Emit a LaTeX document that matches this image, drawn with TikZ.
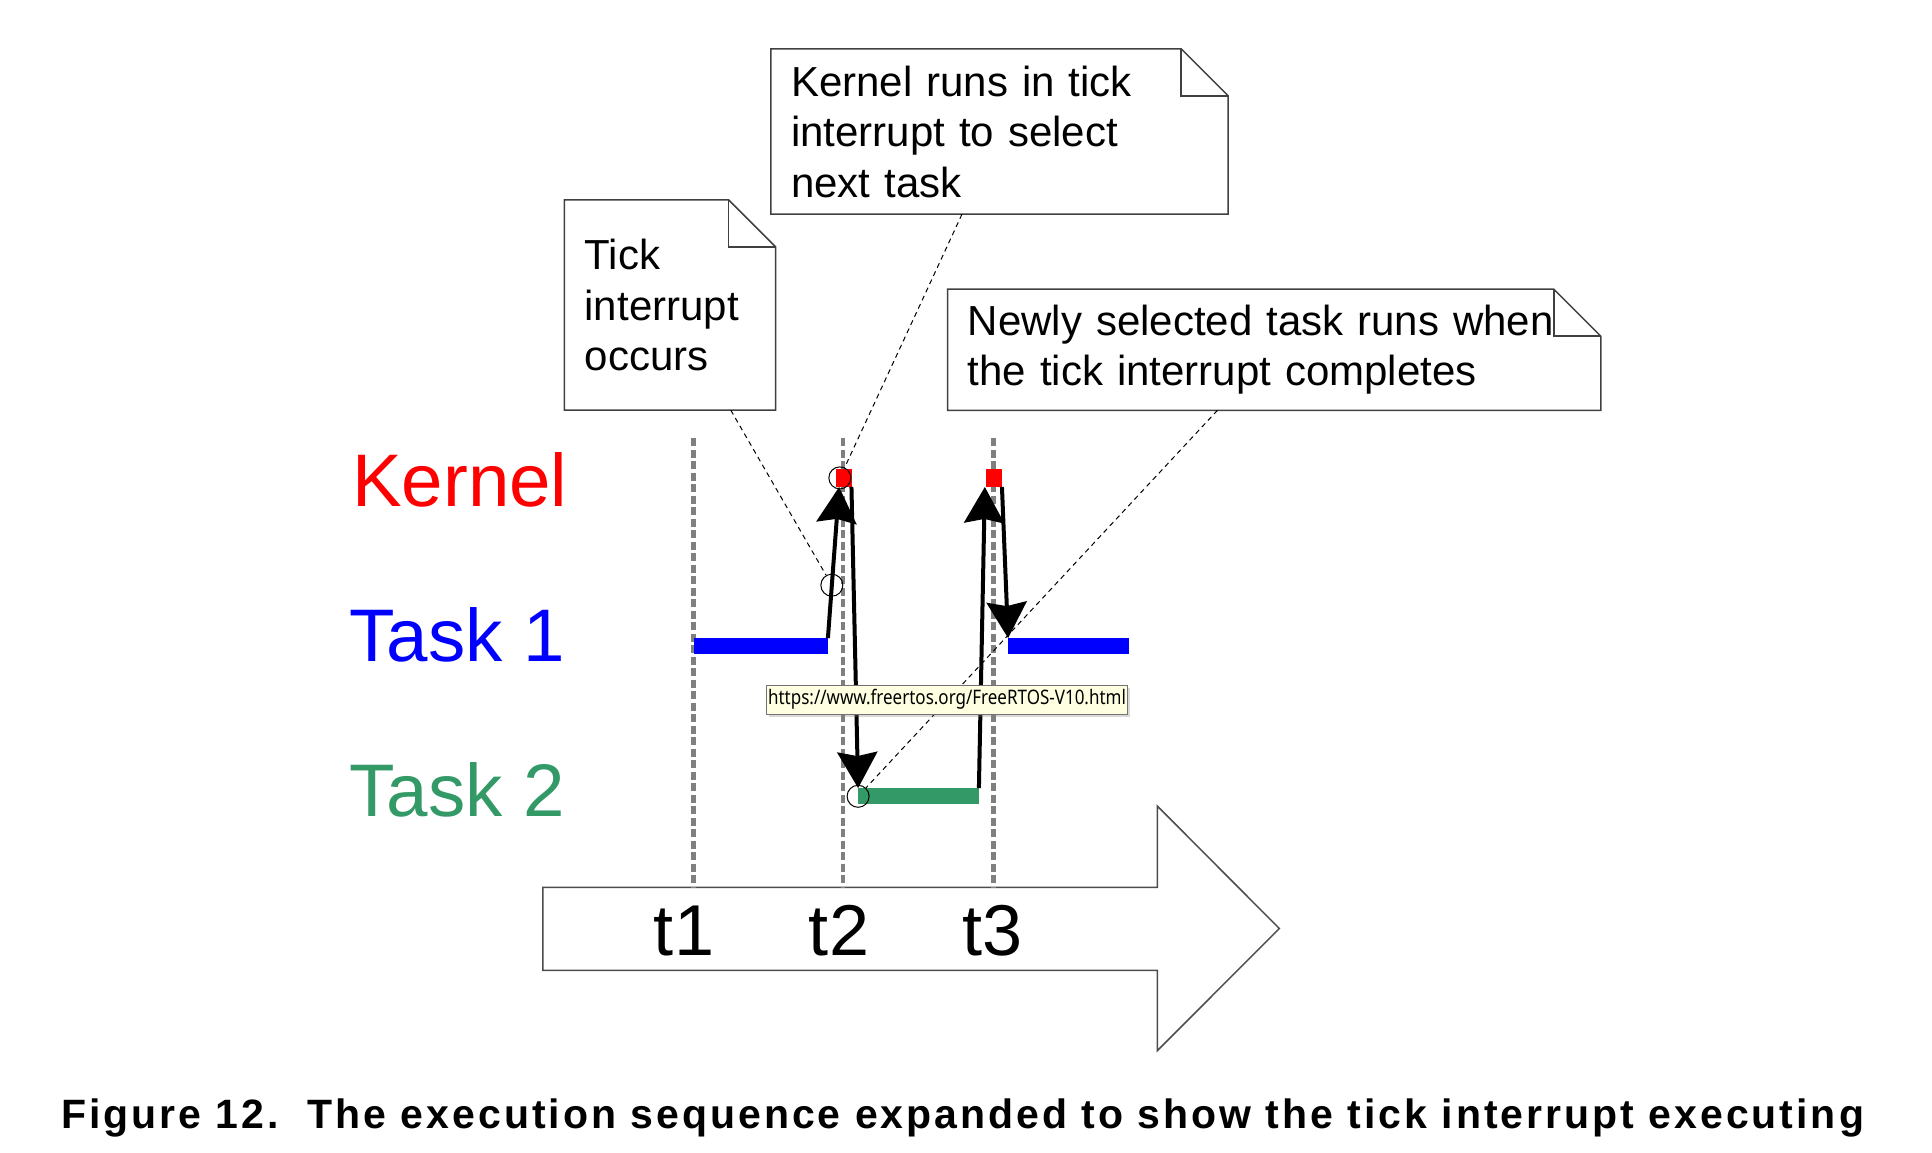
\documentclass[tikz,border=0pt]{standalone}
\usepackage{fontspec}
\setmainfont{Liberation Sans}
\newfontfamily\tipfont{Noto Sans}
\newfontfamily\capfont{Liberation Sans}[LetterSpace=7.3]
\usetikzlibrary{arrows.meta,shadows}

\definecolor{kernred}{RGB}{255,0,0}
\definecolor{taskblue}{RGB}{0,0,255}
\definecolor{taskgreen}{RGB}{51,153,102}
\definecolor{guidegrey}{RGB}{128,128,128}
\definecolor{tipyellow}{RGB}{255,255,225}

\begin{document}
\begin{tikzpicture}[x=1pt,y=1pt,yscale=-1,xscale=1,
  rowlabel/.style={anchor=base west,inner sep=0pt,font=\fontsize{74.5}{80}\selectfont},
  runbar/.style={inner sep=0pt,minimum height=16pt},
  kernblock/.style={fill=kernred,inner sep=0pt,minimum width=15.7pt,minimum height=17.7pt},
  switch/.style={line width=4pt,-{Stealth[length=36pt,width=40pt,inset=4pt]}},
  pin/.style={circle,draw,line width=1pt,minimum size=22pt,inner sep=0pt},
  callout/.style={line width=1pt,dash pattern=on 5pt off 4pt},
  notebox/.style={inner xsep=20pt,inner ysep=0pt,align=left,font=\fontsize{42}{50.5}\selectfont},
  noteline/.style={draw=black!75,line width=1.5pt},
  guide/.style={guidegrey,line width=4.5pt,dash pattern=on 8pt off 3.5pt},
  ticklabel/.style={anchor=base,inner sep=0pt,font=\fontsize{72}{80}\selectfont},
  tipbox/.style={draw=black!55,fill=tipyellow,line width=1pt,inner sep=0pt,
    minimum width=360.6pt,minimum height=29.3pt,font=\tipfont\fontsize{20}{22}\selectfont,
    drop shadow={shadow xshift=2.5pt,shadow yshift=-2.5pt,opacity=0.3}}]
\useasboundingbox (0,0) rectangle (1932,1153);

% Time line arrow
\draw [draw=black!70,line width=1.5pt,fill=white] (542.8,887.3) -- (1157.3,887.3) -- (1157.3,806) -- (1279.3,928.5) -- (1157.3,1050.7) -- (1157.3,970.3) -- (542.8,970.3) -- cycle ;

% Tick instants
\foreach \gx [count=\i] in {693.5,843,993.3}
  \draw [guide] (\gx,438) coordinate (guide\i) -- (\gx,887) ;
\node [ticklabel] (t1) at (684,955) {t1};
\node [ticklabel] (t2) at (839,955) {t2};
\node [ticklabel] (t3) at (992.5,955) {t3};

% Row labels
\node [rowlabel,text=kernred] (kernlbl) at (352,506) {Kernel};
\node [rowlabel,text=taskblue] (task1lbl) at (349.3,661) {Task 1};
\node [rowlabel,text=taskgreen] (task2lbl) at (349.3,816.7) {Task 2};

% Run bars
\node [runbar,fill=taskblue,minimum width=134pt] (task1a) at (760.7,646.3) {};
\node [runbar,fill=taskblue,minimum width=120.7pt] (task1b) at (1068.65,646.3) {};
\node [runbar,fill=taskgreen,minimum width=120.4pt] (task2run) at (918.5,796.3) {};
\node [kernblock] (kern1) at (843.9,477.9) {};
\node [kernblock] (kern2) at (993.9,477.9) {};

% Context switches
\draw [switch] (task1a.north east) -- ([xshift=3.3pt]kern1.south west) node [pin,pos=0.35] (circ2) {};
\draw [switch] ([xshift=-0.5pt]kern1.south east) -- (task2run.north west);
\draw [switch] (task2run.north east) -- ([xshift=-1pt]kern2.south west);
\draw [switch] (kern2.south east) -- (task1b.north west);
\node [pin] (circ1) at ([xshift=4pt]kern1.west) {};
\node [pin] (circ3) at (task2run.west) {};

% Notes
\node [notebox,text width=170.7pt,minimum width=210.7pt,minimum height=210pt] (tickbox) at (670,305) {Tick\\interrupt\\occurs};
\node [notebox,text width=417pt,minimum width=457pt,minimum height=165pt] (kernbox) at (999.5,131.5) {Kernel runs in tick\\interrupt to select\\next task};
\node [notebox,text width=612.7pt,minimum width=652.7pt,minimum height=120.7pt] (newbox) at (1274.2,349.7) {Newly selected task runs when\\the tick interrupt completes};
\foreach \n in {tickbox,kernbox,newbox}{
  \draw [noteline] (\n.north west) -- ([xshift=-47pt]\n.north east) -- ([yshift=47pt]\n.north east) -- (\n.south east) -- (\n.south west) -- cycle ;
  \draw [noteline] ([xshift=-47pt]\n.north east) |- ([yshift=47pt]\n.north east) ;
}

% Callout lines
\draw [callout] ([xshift=60.8pt]tickbox.south) -- (circ2) ;
\draw [callout] ([xshift=-37.5pt]kernbox.south) -- (circ1) ;
\draw [callout] ([xshift=-56.7pt]newbox.south) -- (circ3) ;

% Link tooltip
\node [tipbox] (urltip) at (947,699.7) {\scalebox{0.85}[1]{https://www.freertos.org/FreeRTOS-V10.html}};

% Caption
\node [anchor=base west,inner sep=0pt,font=\capfont\bfseries\fontsize{41}{45}\selectfont] (caption) at (61,1128.6) {Figure 12.\ \ The execution sequence expanded to show the tick interrupt executing};

\end{tikzpicture}
\end{document}
